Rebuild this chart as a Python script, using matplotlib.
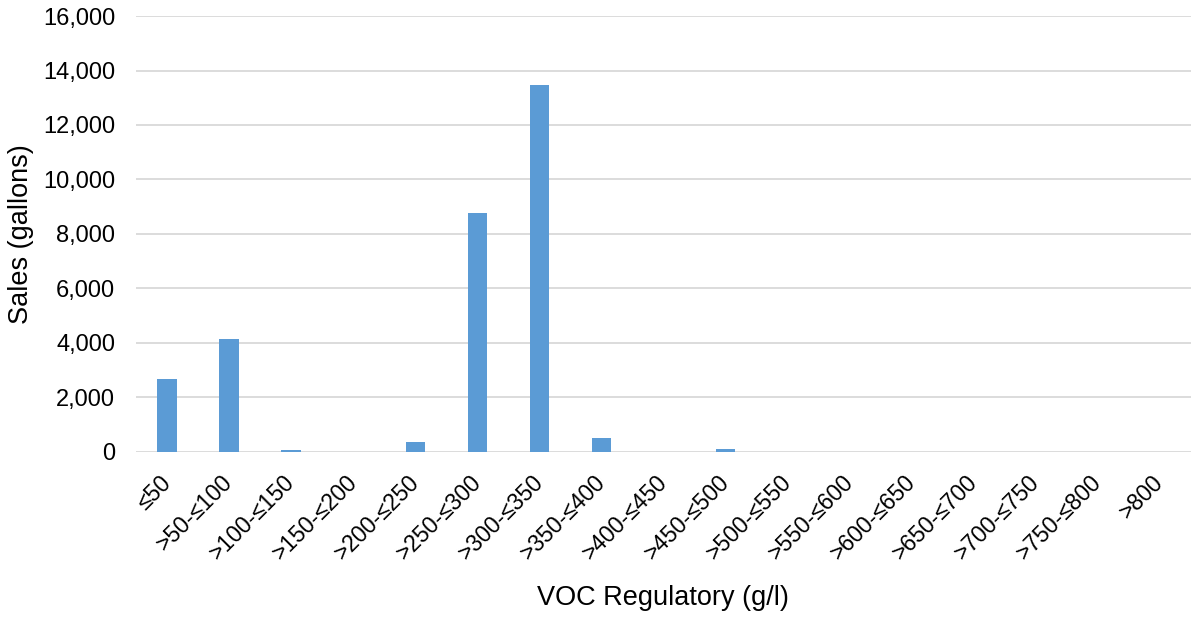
import matplotlib
matplotlib.use('Agg')
import matplotlib.pyplot as plt
import matplotlib.ticker as ticker
import matplotlib.transforms as mtransforms
import numpy as np

plt.rcParams['font.family'] = ['Liberation Sans', 'DejaVu Sans']

# VOC bins and sales
categories = ['≤50', '>50-≤100', '>100-≤150', '>150-≤200', '>200-≤250',
              '>250-≤300', '>300-≤350', '>350-≤400', '>400-≤450',
              '>450-≤500', '>500-≤550', '>550-≤600', '>600-≤650',
              '>650-≤700', '>700-≤750', '>750-≤800', '>800']
sales = [2670, 4150, 75, 0, 350, 8770, 13470, 490, 0,
         90, 0, 0, 0, 0, 0, 0, 0]
y_ticks = [0, 2000, 4000, 6000, 8000, 10000, 12000, 14000, 16000]

fig = plt.figure(figsize=(11.93, 6.18), dpi=100)
ax = fig.add_axes([0.114, 0.269, 0.884, 0.705])

x = np.arange(len(categories))
ax.bar(x, sales, width=0.31, color='#5b9bd5', zorder=3)

ax.set_xlim(-0.5, len(categories) - 0.5)
ax.set_ylim(0, 16000)
ax.set_yticks(y_ticks)
ax.yaxis.set_major_formatter(ticker.StrMethodFormatter('{x:,.0f}'))
ax.grid(True, axis='y', color='#d9d9d9', linewidth=1.3, zorder=0)
for s in ax.spines.values():
    s.set_visible(False)

ax.set_xticks(x)
ax.set_xticklabels(categories, rotation=45, ha='right', va='baseline',
                   rotation_mode='anchor', fontsize=16.5)
ax.tick_params(axis='both', length=0, colors='black')
ax.tick_params(axis='x', pad=23)
ax.tick_params(axis='y', pad=15, labelsize=17)

# nudge the slanted labels a little to the right (after tick_params)
shift = mtransforms.ScaledTranslation(5 / 100, 0, fig.dpi_scale_trans)
for lbl in ax.get_xticklabels():
    lbl.set_transform(lbl.get_transform() + shift)

ax.set_ylabel('Sales (gallons)', fontsize=19.5)
ax.set_xlabel('VOC Regulatory (g/l)', fontsize=19.5)
ax.yaxis.set_label_coords(-0.097, 0.5)
ax.xaxis.set_label_coords(0.5, -0.305)

fig.savefig('out.png', dpi=100)
